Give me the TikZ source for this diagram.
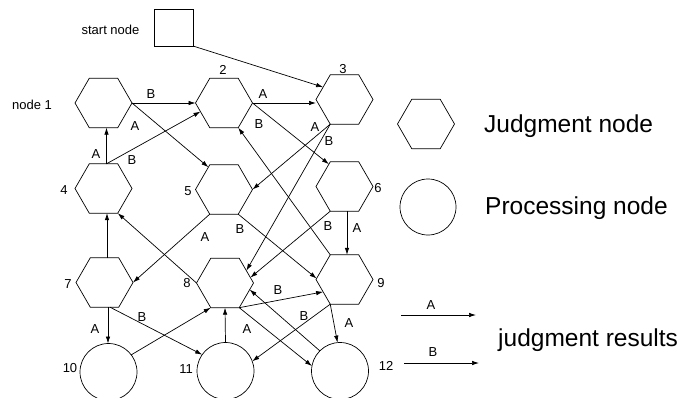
\documentclass[tikz,border=0pt]{standalone}
\usepackage{fontspec}
\setmainfont{Liberation Sans}
\usetikzlibrary{shapes.geometric,arrows.meta}
\begin{document}
\begin{tikzpicture}[x=1pt,y=-1pt,
  judge/.style={draw, regular polygon, regular polygon sides=6, minimum size=57pt,
                inner sep=0pt, outer sep=0pt, line width=0.7pt},
  proc/.style={draw, circle, minimum size=57pt, inner sep=0pt, outer sep=0pt, line width=0.7pt},
  link/.style={-{Latex[length=7pt,width=4.5pt]}, line width=0.7pt},
  lab/.style={font=\fontsize{13}{15}\selectfont, inner sep=0pt},
  big/.style={font=\fontsize{24.5}{28}\selectfont, inner sep=0pt, anchor=west}]
\useasboundingbox (0,0) rectangle (692,398);

% start node
\node[draw, line width=0.7pt, minimum width=39pt, minimum height=37pt, inner sep=0pt, outer sep=0pt]
  (start) at (173.5,27.5) {};
\node[lab] (tstart) at (110.5,30) {start node};

% judgment nodes
\node[judge] (h1) at (103.5,103) {};
\node[judge] (h2) at (224,103) {};
\node[judge] (h3) at (344.5,99.5) {};
\node[judge] (h4) at (103.5,188.5) {};
\node[judge] (h5) at (224,189.5) {};
\node[judge] (h6) at (344.5,186.5) {};
\node[judge] (h7) at (104.5,282.5) {};
\node[judge] (h8) at (225,283) {};
\node[judge] (h9) at (344.5,279.5) {};

% processing nodes
\node[proc] (c10) at (108.5,372) {};
\node[proc] (c11) at (225.5,371) {};
\node[proc] (c12) at (340,371) {};

% node numbers
\node[lab] (n1) at (32,105) {node 1};
\node[lab] (n2) at (223,70) {2};
\node[lab] (n3) at (343,69) {3};
\node[lab] (n4) at (64,190) {4};
\node[lab] (n5) at (188,191) {5};
\node[lab] (n6) at (378,188) {6};
\node[lab] (n7) at (68,284) {7};
\node[lab] (n8) at (187,283) {8};
\node[lab] (n9) at (381,283) {9};
\node[lab] (n10) at (70,368) {10};
\node[lab] (n11) at (186,369) {11};
\node[lab] (n12) at (386,366) {12};

% connectors
\draw[link] (start.south east) -- (h3.150);
\draw[link] (h1.0) -- (h2.180);
\draw[link] (h2.0) -- (h2.0 -| h3.180);
\draw[link] (h1.0) -- (h5.125);
\draw[link] ([xshift=3pt]h4.north) -- ([xshift=3pt]h4.north |- h1.south);
\draw[link] ([xshift=3pt]h4.north) -- (h2.200);
\draw[link] (h3.240) -- (h5.0);
\draw[link] (h3.240) -- (h8.30);
\draw[link] (h2.0) -- (h6.125);
\draw[link] (h9.120) -- (h2.300);
\draw[link] (h5.240) -- (h7.0);
\draw[link] (h5.300) -- (h9.178);
\draw[link] (h8.180) -- (h4.300);
\draw[link] ([xshift=2.5pt]h7.north) -- ([xshift=2.5pt]h7.north |- h4.south);
\draw[link] ([xshift=2.5pt]h6.south) -- ([xshift=2.5pt]h6.south |- h9.north);
\draw[link] (h6.240) -- (h8.12);
\draw[link] ([xshift=3.5pt]h7.south) -- ([xshift=3.5pt]h7.south |- c10.north);
\draw[link] ([xshift=5.5pt]h7.south) -- (c11.145);
\draw[link] (c10.37) -- (h8.240);
\draw[link] (c11.north) -- (h8.south);
\draw[link] (h8.300) -- (h9.210);
\draw[link] (h8.300) -- (c12.170);
\draw[link] (h9.240) -- (c11.20);
\draw[link] (h9.240) -- (c12.95);
\draw[link] (c12.135) -- (h8.345);

% judgment results on the connectors
\node[lab] (l12) at (151,94) {B};
\node[lab] (l23) at (263,94) {A};
\node[lab] (l15) at (135,126) {A};
\node[lab] (l41) at (96,154) {A};
\node[lab] (l42) at (132,160) {B};
\node[lab] (l26) at (259,124) {B};
\node[lab] (l35) at (315,127) {A};
\node[lab] (l38) at (329,141) {B};
\node[lab] (l57) at (205,237) {A};
\node[lab] (l59) at (240,229) {B};
\node[lab] (l68) at (328,226) {B};
\node[lab] (l69) at (357,228) {A};
\node[lab] (l710) at (95,329) {A};
\node[lab] (l711) at (142,317) {B};
\node[lab] (l89) at (278,290) {B};
\node[lab] (l812) at (247,329) {A};
\node[lab] (l911) at (304,316) {B};
\node[lab] (l912) at (349,323) {A};

% legend
\node[judge] (kh) at (426,124) {};
\node[big] (kht) at (484,126) {Judgment node};
\node[proc, minimum size=56pt] (kc) at (428,207) {};
\node[big] (kct) at (485,208) {Processing node};
\coordinate (ka1) at (401,315);
\coordinate (ka2) at (476,315);
\coordinate (kb1) at (404,363);
\coordinate (kb2) at (479,363);
\draw[link] (ka1) -- (ka2);
\draw[link] (kb1) -- (kb2);
\node[lab] (kal) at (431,305) {A};
\node[lab] (kbl) at (433,352) {B};
\node[big] (krt) at (498,340) {judgment results};
\end{tikzpicture}
\end{document}
